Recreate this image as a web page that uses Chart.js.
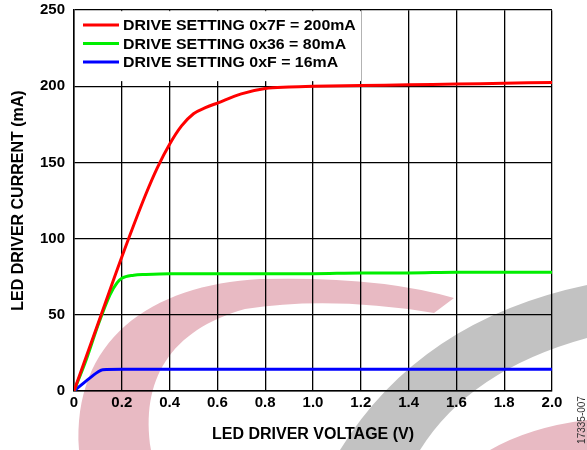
<!DOCTYPE html>
<html>
<head>
<meta charset="utf-8">
<script src="https://cdn.jsdelivr.net/npm/chart.js@4"></script>
<style>
html,body{margin:0;padding:0;background:#fff;}
#wrap{width:587px;height:450px;position:relative;}
</style>
</head>
<body>
<div id="wrap"><canvas id="c" width="587" height="450"></canvas></div>
<script>
// ---- data ----
const seriesLabels = ['DRIVE SETTING 0x7F = 200mA', 'DRIVE SETTING 0x36 = 80mA', 'DRIVE SETTING 0xF = 16mA'];
const seriesColors = ['#ff0000', '#00ee00', '#0000ff'];

const redVolt = [0, 0.1, 0.2, 0.3, 0.35, 0.4, 0.45, 0.5, 0.55, 0.6, 0.7, 0.8, 0.9, 1.0, 1.2, 1.4, 1.6, 1.8, 2.0];
const redCurr = [0, 44, 88, 129, 147, 162, 174, 182, 186, 189, 195, 198.5, 199.5, 200, 200.5, 201, 201.5, 202, 202.5];

const greenVolt = [0, 0.05, 0.1, 0.15, 0.18, 0.2, 0.25, 0.3, 0.4, 0.6, 0.8, 1.0, 1.2, 1.4, 1.6, 1.8, 2.0];
const greenCurr = [0, 20, 43, 63, 71, 74, 76, 76.5, 77, 77, 77, 77, 77.5, 77.5, 78, 78, 78];

const blueVolt = [0, 0.05, 0.1, 0.12, 0.2, 0.4, 0.8, 1.2, 1.6, 2.0];
const blueCurr = [0, 6.5, 12.5, 14, 14.2, 14.2, 14.2, 14.2, 14.2, 14.2];

const xTickLabels = ['0', '0.2', '0.4', '0.6', '0.8', '1.0', '1.2', '1.4', '1.6', '1.8', '2.0'];
const yTickLabels = ['0', '50', '100', '150', '200', '250'];

const xTitle = 'LED DRIVER VOLTAGE (V)';
const yTitle = 'LED DRIVER CURRENT (mA)';
const figureId = '17335-007';

function pts(xs, ys) { return xs.map((x, i) => ({x: x, y: ys[i]})); }
const seriesData = [pts(redVolt, redCurr), pts(greenVolt, greenCurr), pts(blueVolt, blueCurr)];

const FONT = '"Liberation Sans", Arial, sans-serif';

// background watermark (decoration only)
const watermark = {
  id: 'watermark',
  beforeDraw(chart) {
    const ctx = chart.ctx;
    ctx.save();
    ctx.fillStyle = '#fff';
    ctx.fillRect(0, 0, chart.width, chart.height);
    // pink arc
    ctx.fillStyle = 'rgb(232,186,195)';
    ctx.beginPath();
    ctx.moveTo(79, 450);
    ctx.bezierCurveTo(72, 340, 150, 285, 260, 279);
    ctx.quadraticCurveTo(380, 276, 454, 298);
    ctx.lineTo(434, 313);
    ctx.quadraticCurveTo(330, 296, 245, 309);
    ctx.bezierCurveTo(170, 330, 140, 380, 151, 450);
    ctx.closePath();
    ctx.fill();
    // pink bottom-right
    ctx.beginPath();
    ctx.moveTo(490, 450);
    ctx.quadraticCurveTo(530, 427, 587, 420);
    ctx.lineTo(587, 450);
    ctx.closePath();
    ctx.fill();
    // gray band
    ctx.fillStyle = 'rgb(194,194,194)';
    ctx.beginPath();
    ctx.moveTo(340, 450);
    ctx.quadraticCurveTo(420, 320, 587, 285);
    ctx.lineTo(587, 338);
    ctx.quadraticCurveTo(470, 370, 420, 450);
    ctx.closePath();
    ctx.fill();
    ctx.restore();
  }
};

// legend box inside plot
const insideLegend = {
  id: 'insideLegend',
  beforeDatasetsDraw(chart) {
    const ctx = chart.ctx;
    const a = chart.chartArea;
    ctx.save();
    ctx.fillStyle = '#fff';
    ctx.fillRect(a.left + 1, a.top + 1, 286, 70);
    ctx.font = 'bold 15px ' + FONT;
    ctx.textBaseline = 'middle';
    ctx.textAlign = 'left';
    const rows = [25, 43.5, 62];
    chart.data.datasets.forEach((ds, i) => {
      ctx.strokeStyle = ds.borderColor;
      ctx.lineWidth = 3;
      ctx.beginPath();
      ctx.moveTo(83, rows[i]);
      ctx.lineTo(119, rows[i]);
      ctx.stroke();
      ctx.fillStyle = '#000';
      ctx.save();
      ctx.translate(123, rows[i]);
      ctx.scale(1.06, 1);
      ctx.fillText(ds.label, 0, 1);
      ctx.restore();
    });
    ctx.restore();
  },
  afterDraw(chart) {
    const ctx = chart.ctx;
    ctx.save();
    ctx.translate(582, 420);
    ctx.rotate(-Math.PI / 2);
    ctx.font = '10px ' + FONT;
    ctx.fillStyle = '#333';
    ctx.textAlign = 'center';
    ctx.textBaseline = 'middle';
    ctx.fillText(figureId, 0, 0);
    ctx.restore();
  }
};

new Chart(document.getElementById('c'), {
  type: 'line',
  data: {
    datasets: seriesData.map((d, i) => ({
      label: seriesLabels[i],
      data: d,
      borderColor: seriesColors[i],
      backgroundColor: seriesColors[i],
      borderWidth: 3,
      pointRadius: 0,
      cubicInterpolationMode: 'monotone',
      fill: false
    }))
  },
  options: {
    responsive: false,
    animation: false,
    layout: {autoPadding: false, padding: {top: 9, right: 35, left: 0, bottom: 0}},
    plugins: {legend: {display: false}, tooltip: {enabled: false}},
    scales: {
      x: {
        type: 'linear', min: 0, max: 2,
        afterFit(s) { s.height = 59; },
        ticks: {
          stepSize: 0.2, padding: 3, color: '#000', maxRotation: 0,
          font: {family: FONT, size: 15, weight: 'bold'},
          callback: (v, i) => xTickLabels[i]
        },
        grid: {color: '#000', lineWidth: 1.3, drawTicks: false},
        border: {color: '#000', width: 1.5},
        title: {display: true, text: xTitle, color: '#000',
          font: {family: FONT, size: 16, weight: 'bold'}, padding: {top: 0, bottom: 6}}
      },
      y: {
        type: 'linear', min: 0, max: 250,
        afterFit(s) { s.width = 74; },
        ticks: {
          stepSize: 50, padding: 9, color: '#000',
          font: {family: FONT, size: 15, weight: 'bold', lineHeight: 0.15},
          callback: (v, i) => yTickLabels[i]
        },
        grid: {color: '#000', lineWidth: 1.3, drawTicks: false},
        border: {color: '#000', width: 1.5},
        title: {display: true, text: yTitle, color: '#000',
          font: {family: FONT, size: 16, weight: 'bold'}, padding: {top: 9, bottom: 0}}
      }
    }
  },
  plugins: [watermark, insideLegend]
});
</script>
</body>
</html>
